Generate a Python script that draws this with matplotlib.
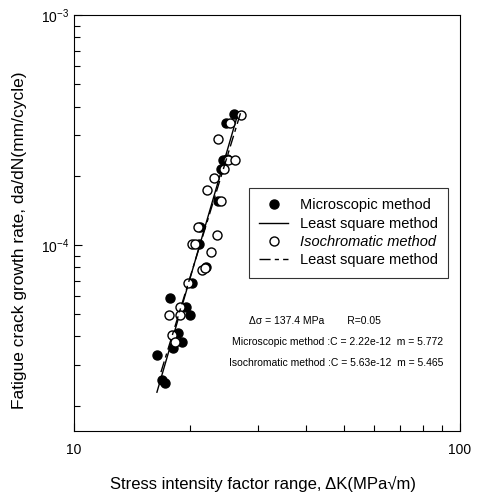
import numpy as np
import matplotlib
matplotlib.use("Agg")
import matplotlib.pyplot as plt
from matplotlib.ticker import LogLocator, NullFormatter, FixedLocator

plt.rcParams['font.family'] = ['Liberation Sans', 'DejaVu Sans']
plt.rcParams['mathtext.fontset'] = 'custom'
plt.rcParams['mathtext.rm'] = 'Liberation Sans'
plt.rcParams['mathtext.it'] = 'Liberation Sans:italic'

# microscopic method (filled circles)
micro_dk = [26.0, 24.8, 24.3, 24.9, 24.0, 23.6, 21.2, 21.1, 22.0, 20.2,
            17.7, 19.5, 20.0, 18.6, 19.05, 18.05, 16.4, 16.9, 17.2]
micro_rate = [3.71e-4, 3.39e-4, 2.34e-4, 2.36e-4, 2.14e-4, 1.55e-4, 1.20e-4,
              1.01e-4, 8.0e-5, 6.84e-5, 5.88e-5, 5.38e-5, 4.96e-5, 4.14e-5,
              3.79e-5, 3.57e-5, 3.32e-5, 2.59e-5, 2.51e-5]

# isochromatic method (open circles)
iso_dk = [27.1, 25.4, 23.6, 25.1, 26.1, 24.5, 23.05, 22.1, 24.0, 20.95, 23.5,
          20.2, 20.6, 22.6, 21.5, 21.85, 19.7, 18.8, 17.6, 18.8, 17.9, 18.3]
iso_rate = [3.67e-4, 3.39e-4, 2.89e-4, 2.34e-4, 2.34e-4, 2.14e-4, 1.96e-4,
            1.74e-4, 1.55e-4, 1.20e-4, 1.10e-4, 1.01e-4, 1.01e-4, 9.3e-5,
            7.8e-5, 7.95e-5, 6.84e-5, 5.38e-5, 4.96e-5, 4.96e-5, 4.06e-5, 3.79e-5]

# least square fit lines (end points)
micro_fit_dk = [16.4, 26.5]
micro_fit_rate = [2.29e-5, 3.65e-4]
iso_fit_dk = [16.8, 27.0]
iso_fit_rate = [2.80e-5, 3.74e-4]

fig = plt.figure(figsize=(4.78, 4.95), dpi=100)
ax = fig.add_axes([0.1548, 0.1293, 0.8075, 0.8404])

ax.plot(micro_dk, micro_rate, 'o', color='black', markersize=6.5, label='Microscopic method')
ax.plot(micro_fit_dk, micro_fit_rate, '-', color='black', lw=1.0, label='Least square method')
ax.plot(iso_dk, iso_rate, 'o', mfc='white', mec='black', mew=1.0, markersize=6.5,
        label='Isochromatic method')
ax.plot(iso_fit_dk, iso_fit_rate, color='black', lw=1.0, dashes=(8, 3, 3, 3),
        label='Least square method')

ax.set_xscale('log')
ax.set_yscale('log')
ax.set_xlim(10, 100)
ax.set_ylim(1.553e-5, 1e-3)

ax.xaxis.set_major_locator(FixedLocator([10, 100]))
ax.set_xticklabels(['10', '100'])
ax.yaxis.set_major_locator(FixedLocator([1e-4, 1e-3]))
ax.set_yticklabels([r'$10^{-4}$', r'$10^{-3}$'])
ax.xaxis.set_minor_locator(LogLocator(base=10, subs=np.arange(2, 10)))
ax.yaxis.set_minor_locator(LogLocator(base=10, subs=np.arange(2, 10)))
ax.xaxis.set_minor_formatter(NullFormatter())
ax.yaxis.set_minor_formatter(NullFormatter())
ax.tick_params(which='both', direction='in', top=False, right=False, labelsize=10)
ax.tick_params(which='major', length=6, width=0.8)
ax.tick_params(which='minor', length=4, width=0.8)
ax.tick_params(axis='x', pad=9)

ax.set_xlabel(u'Stress intensity factor range, \u0394K(MPa\u221am)', fontsize=12)
ax.xaxis.set_label_coords(0.49, -0.108)
ax.set_ylabel('Fatigue crack growth rate, da/dN(mm/cycle)', fontsize=12.5)
ax.yaxis.set_label_coords(-0.122, 0.459)

leg = ax.legend(loc='upper left', bbox_to_anchor=(0.453, 0.584), borderaxespad=0,
                fontsize=10.5, frameon=True, fancybox=False, edgecolor='black',
                handlelength=2.0, labelspacing=0.3, borderpad=0.7, handletextpad=0.8)
leg.get_frame().set_linewidth(0.8)
leg.get_texts()[2].set_style('italic')

ax.text(0.453, 0.2644, u'\u0394\u03c3 = 137.4 MPa        R=0.05', transform=ax.transAxes,
        fontsize=7.5, ha='left', va='center')
ax.text(0.956, 0.214, 'Microscopic method :C = 2.22e-12  m = 5.772', transform=ax.transAxes,
        fontsize=7.5, ha='right', va='center')
ax.text(0.956, 0.1635, 'Isochromatic method :C = 5.63e-12  m = 5.465', transform=ax.transAxes,
        fontsize=7.5, ha='right', va='center')

fig.savefig('out.png', dpi=100)
